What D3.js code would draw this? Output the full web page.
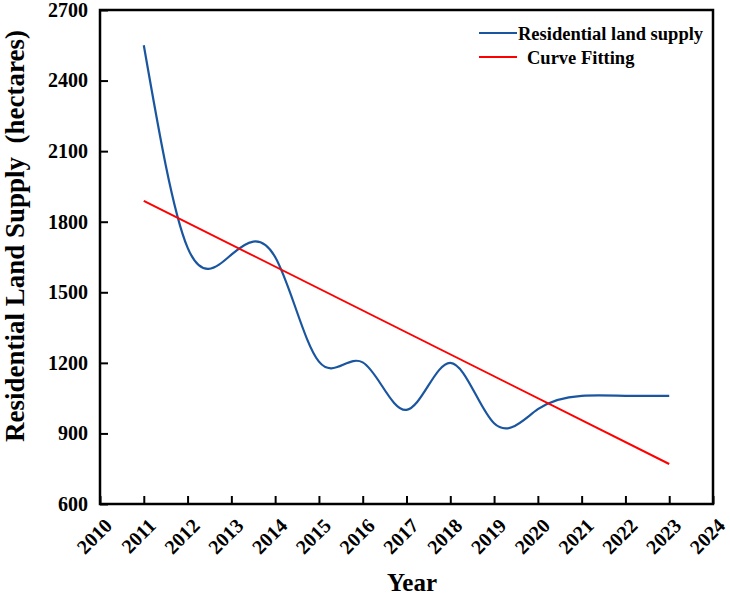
<!DOCTYPE html>
<html>
<head>
<meta charset="utf-8">
<script src="https://cdn.jsdelivr.net/npm/d3@7"></script>
<style>
  body { margin: 0; background: #fff; }
  text { font-family: "Liberation Serif", "Times New Roman", serif; font-weight: bold; fill: #000; }
</style>
</head>
<body>
<div id="chart"></div>
<script>
// yearly residential land supply
const years = [2011, 2012, 2013, 2014, 2015, 2016, 2017, 2018, 2019, 2020, 2021, 2022, 2023];
const supply = [2550, 1690, 1660, 1650, 1205, 1202, 1000, 1200, 943, 1003, 1060, 1060, 1060];

// end points of the fitted line
const fitYears = [2011, 2023];
const fitValues = [1889, 770];

const xTicks = d3.range(2010, 2025);
const yTicks = [600, 900, 1200, 1500, 1800, 2100, 2400, 2700];

const width = 730, height = 595;
const margin = { top: 10, right: 17, bottom: 91, left: 100 };

const svg = d3.select('#chart')
              .append('svg')
              .attr('width', width)
              .attr('height', height);

const xScale = d3.scaleLinear()
    .domain([2010, 2024])
    .range([margin.left, width - margin.right]);
const yScale = d3.scaleLinear()
    .domain([600, 2700])
    .range([height - margin.bottom, margin.top]);

const plotBottom = height - margin.bottom;

// lines
const supplyLine = d3.line()
    .x((d, i) => xScale(years[i]))
    .y(d => yScale(d))
    .curve(d3.curveNatural);

svg.append('path')
   .datum(supply)
   .attr('d', supplyLine)
   .attr('fill', 'none')
   .attr('stroke', '#1a56a0')
   .attr('stroke-width', 2.2);

const fitLine = d3.line()
    .x((d, i) => xScale(fitYears[i]))
    .y(d => yScale(d));

svg.append('path')
   .datum(fitValues)
   .attr('d', fitLine)
   .attr('fill', 'none')
   .attr('stroke', '#ff0000')
   .attr('stroke-width', 2);

// axes, ticks pointing inward
const xAxis = svg.append('g')
    .attr('transform', `translate(0,${plotBottom})`)
    .call(d3.axisBottom(xScale).tickValues(xTicks).tickSizeInner(-8).tickSizeOuter(0).tickFormat(d3.format('d')));
xAxis.select('.domain').remove();
xAxis.selectAll('line').attr('stroke-width', 2);
xAxis.selectAll('text')
     .attr('font-size', 20)
     .attr('text-anchor', 'end')
     .attr('transform', 'translate(3,13) rotate(-45)')
     .attr('x', 0)
     .attr('y', 0)
     .attr('dy', '0.7em');

const yAxis = svg.append('g')
    .attr('transform', `translate(${margin.left},0)`)
    .call(d3.axisLeft(yScale).tickValues(yTicks).tickSizeInner(-8).tickSizeOuter(0).tickPadding(12).tickFormat(d3.format('d')));
yAxis.select('.domain').remove();
yAxis.selectAll('line').attr('stroke-width', 2);
yAxis.selectAll('text').attr('font-size', 20);

// frame
svg.append('rect')
   .attr('x', margin.left)
   .attr('y', margin.top)
   .attr('width', width - margin.left - margin.right)
   .attr('height', plotBottom - margin.top)
   .attr('fill', 'none')
   .attr('stroke', '#000')
   .attr('stroke-width', 2.5);

// titles
svg.append('text')
   .attr('x', 412)
   .attr('y', 591)
   .attr('text-anchor', 'middle')
   .attr('font-size', 25)
   .text('Year');

svg.append('text')
   .attr('transform', 'translate(24,236) rotate(-90)')
   .attr('text-anchor', 'middle')
   .attr('font-size', 27)
   .attr('xml:space', 'preserve')
   .text('Residential Land Supply  (hectares)');

// legend
const legend = [
  { label: 'Residential land supply', color: '#1a56a0', y: 33, tx: 518 },
  { label: 'Curve Fitting', color: '#ff0000', y: 57, tx: 527 }
];
legend.forEach(l => {
  svg.append('line')
     .attr('x1', 479).attr('x2', 517)
     .attr('y1', l.y).attr('y2', l.y)
     .attr('stroke', l.color)
     .attr('stroke-width', 2.2);
  svg.append('text')
     .attr('x', l.tx)
     .attr('y', l.y + 7)
     .attr('font-size', 18.5)
     .text(l.label);
});
</script>
</body>
</html>
